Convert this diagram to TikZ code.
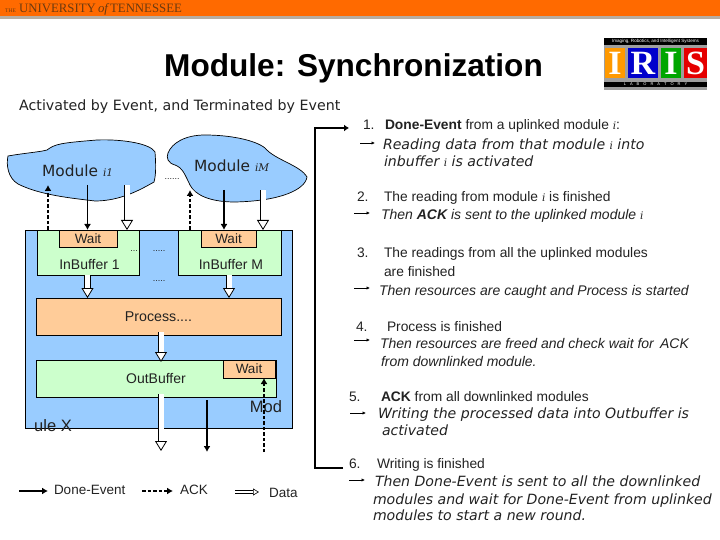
\documentclass[tikz,border=0pt]{standalone}
\usepackage{fontspec}
\setmainfont{Liberation Sans}
\newfontfamily\wideface{DejaVu Sans}
\newfontfamily\slabface{DejaVu Serif}
\newfontfamily\headface{Liberation Serif}
\usetikzlibrary{positioning,calc,arrows.meta}

\definecolor{utorange}{HTML}{FF6A00}
\definecolor{utgray}{HTML}{B8ADA0}
\definecolor{utbrown}{HTML}{6B3A10}
\definecolor{modblue}{HTML}{99CCFF}
\definecolor{bufgreen}{HTML}{CCFFCC}
\definecolor{procpeach}{HTML}{FFCC99}
\definecolor{inktext}{HTML}{222222}
\newcommand{\idx}[1]{{\slabface\itshape\fontsize{10.5}{10}\selectfont #1}}

\tikzset{
    box/.style={draw, line width=0.7pt, anchor=north west, inner sep=0pt, outer sep=0pt, text=inktext},
    doneline/.style={line width=1.4pt, -{Latex[length=6pt,width=7pt]}},
    ackline/.style={line width=1.5pt, dash pattern=on 3.5pt off 2pt, -{Latex[length=6pt,width=7pt]}},
    dataline/.style={line width=0.8pt, double=white, double distance=5pt, -{Triangle[open,length=10pt,width=12pt,fill=white]}},
    stepline/.style={line width=0.8pt, -{Latex[length=3.5pt,width=3.5pt]}},
    plain/.style={anchor=base west, inner sep=0pt, outer sep=0pt, text=inktext, font=\fontsize{13.8}{14}\selectfont},
    boxtext/.style={font=\fontsize{13.5}{14}\selectfont},
    slant/.style={plain, font=\fontsize{14}{14}\selectfont\itshape},
    wide/.style={plain, font=\wideface\fontsize{14.1}{14}\selectfont\itshape},
    modname/.style={inner sep=0pt, anchor=base west, text=inktext, font=\wideface\fontsize{15.4}{14}\selectfont},
    dots/.style={inner sep=0pt, text=inktext, font=\fontsize{9}{9}\selectfont},
    letter/.style={inner sep=0pt, font=\bfseries\fontsize{34}{30}\selectfont\headface, text=white}
}

\begin{document}
\begin{tikzpicture}[x=1pt,y=-1pt]
    \useasboundingbox (0,0) rectangle (720,540);
    % Header
    \fill[utorange] (0,0) rectangle (720,16);
    \fill[utgray] (0,16) rectangle (720,19);
    \node[anchor=base west, inner sep=0pt, text=utbrown] (univ) at (5,13)
        {\headface\fontsize{5.5}{6}\selectfont THE\fontsize{12.8}{14}\selectfont\ UNIVERSITY\,{\itshape of}\,TENNESSEE};

    % Title
    \node[anchor=base, inner sep=0pt, font=\bfseries\fontsize{31.6}{34}\selectfont] (title) at (353.5,76.5) {Module: Synchronization};
    \node[anchor=base west, inner sep=0pt, text=inktext, font=\wideface\fontsize{14.2}{14}\selectfont] (subtitle) at (19,111)
        {Activated by Event, and Terminated by Event};

    % Logo
    \fill[black!38] (604,38) rectangle (707,90);
    \fill[black] (604,38) rectangle (707,45);
    \fill[black] (604,82) rectangle (707,87);
    \node[inner sep=0pt, text=white, font=\fontsize{4.6}{4}\selectfont] (logotop) at (655.5,41.5) {Imaging, Robotics, and Intelligent Systems};
    \node[inner sep=0pt, text=white, font=\fontsize{4}{4}\selectfont] (logobot) at (655.5,84.5) {L\quad A\quad B\quad O\quad R\quad A\quad T\quad O\quad R\quad Y};
    \foreach \x/\w/\c/\t in {605/20/orange!80!yellow/I,628/30/blue!80!black/R,661/20/green!65!black/I,684/23/red!90!black/S} {
        \fill[\c] (\x,48) rectangle (\x+\w,78);
        \node[letter] (logo\x) at (\x+\w/2,63) {\t};
    }

    % Uplinked modules
    \draw[fill=modblue, line width=0.7pt] (8,156) .. controls (25,153) and (40,152) .. (47,150)
        .. controls (55,144) and (60,143) .. (97,140) .. controls (120,139) and (150,143) .. (155,152)
        .. controls (156,165) and (156,175) .. (154,182) .. controls (140,190) and (120,201) .. (95,201)
        .. controls (70,198) and (40,195) .. (18,184) .. controls (8,178) and (6,165) .. (8,156) -- cycle;
    \draw[fill=modblue, line width=0.7pt] (168,153) .. controls (172,143) and (185,135) .. (205,135)
        .. controls (230,135) and (255,140) .. (265,148) .. controls (275,160) and (300,165) .. (307,177)
        .. controls (305,190) and (280,201) .. (235,202) .. controls (210,202) and (195,195) .. (190,185)
        .. controls (185,175) and (183,168) .. (175,165) .. controls (168,163) and (166,158) .. (168,153) -- cycle;
    \node[modname] (up1) at (42,177) {Module \idx{i1}};
    \node[modname] (upM) at (194,171.5) {Module \idx{iM}};
    \node[dots] (updots) at (172,179) {......};

    % Module X
    \node[box, fill=modblue, minimum width=267pt, minimum height=198pt] (modx) at (25.7,230) {};
    \node[box, fill=bufgreen, minimum width=102pt, minimum height=45pt] (buf1) at (37,230) {};
    \node[box, fill=bufgreen, minimum width=103pt, minimum height=45pt] (bufM) at (178,230) {};
    \node[box, boxtext, fill=procpeach, minimum width=58pt, minimum height=17pt] (wait1) at (59,230) {Wait};
    \node[box, boxtext, fill=procpeach, minimum width=55pt, minimum height=17pt] (waitM) at (201,230) {Wait};
    \node[plain, font=\fontsize{14}{14}\selectfont, anchor=center] (label1) at (89.5,265) {InBuffer 1};
    \node[plain, font=\fontsize{14}{14}\selectfont, anchor=center] (labelM) at (231,265) {InBuffer M};
    \node[box, fill=procpeach, minimum width=245pt, minimum height=37pt, font=\fontsize{14.2}{14}\selectfont] (proc) at (36,298) {Process....};
    \node[box, fill=bufgreen, minimum width=240pt, minimum height=37pt] (outbuf) at (36,360) {};
    \node[plain, font=\fontsize{14}{14}\selectfont, anchor=center] (outlabel) at (156,379) {OutBuffer};
    \node[box, boxtext, fill=procpeach, minimum width=52pt, minimum height=18pt] (waitout) at (223,360) {Wait};
    \node[plain, font=\fontsize{16.5}{14}\selectfont, anchor=center] (modtxt) at (266,407) {Mod};
    \node[plain, font=\fontsize{16.5}{14}\selectfont, anchor=center] (uletxt) at (53,426) {ule X};
    \node[dots] (dots1) at (134,251) {...};
    \node[dots] (dots2) at (159,251) {.....};
    \node[dots] (dots3) at (159,281) {.....};

    % End points of the links
    \coordinate (c1) at (87.5,185); \coordinate (c2) at (127,185);
    \coordinate (c3) at (224,190); \coordinate (c4) at (263,190);
    \coordinate (c5) at (48,185); \coordinate (c6) at (190,190);
    \coordinate (c7) at (161,451); \coordinate (c8) at (207,452); \coordinate (c9) at (264,452);

    % Links
    \draw[doneline] (c1) -- (c1 |- modx.north);
    \draw[doneline] (c3) -- (c3 |- modx.north);
    \draw[dataline] (c2) -- (c2 |- modx.north);
    \draw[dataline] (c4) -- (c4 |- modx.north);
    \draw[ackline] (c5 |- modx.north) -- (c5);
    \draw[ackline] (c6 |- modx.north) -- (c6);
    \draw[dataline] (87.5,275) -- (87.5,298);
    \draw[dataline] (229,275) -- (229,298);
    \draw[dataline] (161,332) -- (161,362);
    \draw[dataline] (161,394) -- (c7);
    \draw[doneline] (207,400) -- (c8);
    \draw[ackline] (c9) -- (c9 |- waitout.south);

    % Legend
    \coordinate (l1) at (19,491); \coordinate (l2) at (48,491);
    \coordinate (l3) at (142,491); \coordinate (l4) at (173,491);
    \coordinate (l5) at (235,492); \coordinate (l6) at (259,492);
    \draw[doneline] (l1) -- (l2);
    \draw[ackline] (l3) -- (l4);
    \draw[line width=0.6pt, double=white, double distance=2.5pt, -{Triangle[open,length=6pt,width=7pt,fill=white]}] (l5) -- (l6);
    \node[plain, boxtext, anchor=base west] (legdone) at (54,494.5) {Done-Event};
    \node[plain, boxtext, anchor=base west] (legack) at (180,494.5) {ACK};
    \node[plain, boxtext, anchor=base west] (legdata) at (269,497) {Data};

    % Steps bracket
    \coordinate (b1) at (349,128); \coordinate (b2) at (315,128);
    \coordinate (b3) at (315,468); \coordinate (b4) at (343,468);
    \draw[line width=2.5pt, -{Latex[length=5pt,width=7pt]}] (b4) -- (b3) -- (b2) -- (b1);

    % Steps
    \node[plain] (n1) at (363,129.5) {1.};
    \node[plain] (t1) at (385,129.5) {\textbf{Done-Event} from a uplinked module \idx{i}:};
    \node[wide] (t1a) at (383,150) {Reading data from that module \idx{i} into};
    \node[wide] (t1b) at (384,167) {inbuffer \idx{i} is activated};
    \node[plain] (n2) at (357,201.7) {2.};
    \node[plain] (t2) at (384,201.7) {The reading from module \idx{i} is finished};
    \node[slant] (t2a) at (381,220) {Then \textbf{ACK} is sent to the uplinked module \idx{i}};
    \node[plain] (n3) at (357,258) {3.};
    \node[plain] (t3) at (384,258) {The readings from all the uplinked modules};
    \node[plain] (t3b) at (384,276) {are finished};
    \node[slant] (t3a) at (379,295) {Then resources are caught and Process is started};
    \node[plain] (n4) at (356,331.7) {4.};
    \node[plain] (t4) at (387,331.7) {Process is finished};
    \node[slant] (t4a) at (380,348) {Then resources are freed and check wait for\, ACK};
    \node[slant] (t4b) at (381,366.7) {from downlinked module.};
    \node[plain] (n5) at (349,401) {5.};
    \node[plain] (t5) at (381,401) {\textbf{ACK} from all downlinked modules};
    \node[wide] (t5a) at (378,418) {Writing the processed data into Outbuffer is};
    \node[wide] (t5b) at (382,435.7) {activated};
    \node[plain] (n6) at (349,468) {6.};
    \node[plain] (t6) at (377,468) {Writing is finished};
    \node[wide] (t6a) at (375,486.7) {Then Done-Event is sent to all the downlinked};
    \node[wide] (t6b) at (373,504) {modules and wait for Done-Event from uplinked};
    \node[wide] (t6c) at (373,520.7) {modules to start a new round.};

    % Step arrows
    \foreach \xa/\xb/\y in {360/375/143,354/370/213,354/370/288,354/370/340,350/366/413,349/365/480} {
        \draw[stepline] (\xa,\y) -- (\xb,\y);
    }
\end{tikzpicture}
\end{document}
